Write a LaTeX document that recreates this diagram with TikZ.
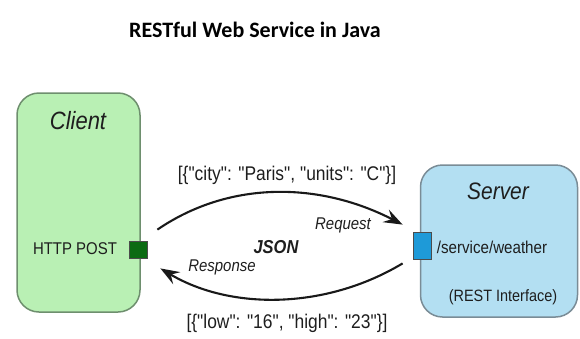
\documentclass[tikz,border=0pt]{standalone}
\usepackage{fontspec}
\setmainfont{Liberation Sans}[Ligatures=TeXOff, FakeStretch=0.88]
\newfontfamily\titlefont{Carlito}
\usetikzlibrary{arrows.meta}
\definecolor{clientfill}{HTML}{B9F0B4}
\definecolor{clientdraw}{HTML}{6E8F6E}
\definecolor{serverfill}{HTML}{B3DFF2}
\definecolor{serverdraw}{HTML}{7A8C96}
\definecolor{portgreen}{HTML}{0B6B12}
\definecolor{portblue}{HTML}{1E9AD8}
\definecolor{txt}{HTML}{1E1E1E}
\tikzset{
  box/.style={draw, line width=1.5pt, rounded corners=22pt, inner sep=0pt},
  port/.style={draw=black!70, line width=0.8pt, inner sep=0pt},
  lbl/.style={inner sep=0pt, text=txt, font=\fontsize{17}{20}\selectfont},
  json/.style={inner sep=0pt, text=txt, font=\fontsize{19.8}{23}\selectfont},
  arr/.style={line width=2.1pt, black!90, -{Stealth[length=19pt,width=14pt,inset=7pt]}}
}
\begin{document}
\begin{tikzpicture}[x=1pt,y=-1pt]
\useasboundingbox (0,0) rectangle (580,338);
\node[inner sep=0pt, font=\titlefont\bfseries\fontsize{22}{26}\selectfont] (title) at (255,30) {RESTful Web Service in Java};
% boxes
\node[box, fill=clientfill, draw=clientdraw, minimum width=123pt, minimum height=219pt] (client) at (78.5,202.5) {};
\node[box, fill=serverfill, draw=serverdraw, minimum width=157pt, minimum height=152pt] (server) at (499,241) {};
% labels in boxes
\node[inner sep=0pt, text=txt, font=\itshape\fontsize{25}{28}\selectfont] (clientlbl) at (78,121) {Client};
\node[lbl] (post) at (75,249) {HTTP POST};
\node[inner sep=0pt, text=txt, font=\itshape\fontsize{23.8}{27}\selectfont] (serverlbl) at (498,191) {Server};
\node[lbl, font=\fontsize{17.2}{20}\selectfont] (path) at (492,247) {/service/weather};
\node[lbl, font=\fontsize{16.4}{20}\selectfont] (rest) at (503,297) {(REST Interface)};
% ports
\node[port, fill=portgreen, minimum width=18pt, minimum height=17pt] (gsq) at (138,250) {};
\node[port, fill=portblue, minimum width=18pt, minimum height=27pt] (bsq) at (422,246) {};
% connectors
\draw[arr] ([shift={(10pt,11.5pt)}]gsq.north east) .. controls (230,180) and (320,182) .. ([shift={(-10pt,7.5pt)}]bsq.north west);
\draw[arr] ([shift={(-10pt,-3.5pt)}]bsq.south west) .. controls (325,310) and (230,310) .. ([shift={(13pt,-9.5pt)}]gsq.south east);
% connector labels
\node[json] (req) at (287,175) {[\{"city": "Paris", "units": "C"\}]};
\node[lbl, font=\itshape\fontsize{17}{20}\selectfont] (reqlbl) at (343,225) {Request};
\node[inner sep=0pt, text=txt, font=\bfseries\itshape\fontsize{18.7}{22}\selectfont] (json) at (276,247) {JSON};
\node[lbl, font=\itshape\fontsize{17}{20}\selectfont] (resplbl) at (222,267) {Response};
\node[json] (resp) at (287,323) {[\{"low": "16", "high": "23"\}]};
\end{tikzpicture}
\end{document}
